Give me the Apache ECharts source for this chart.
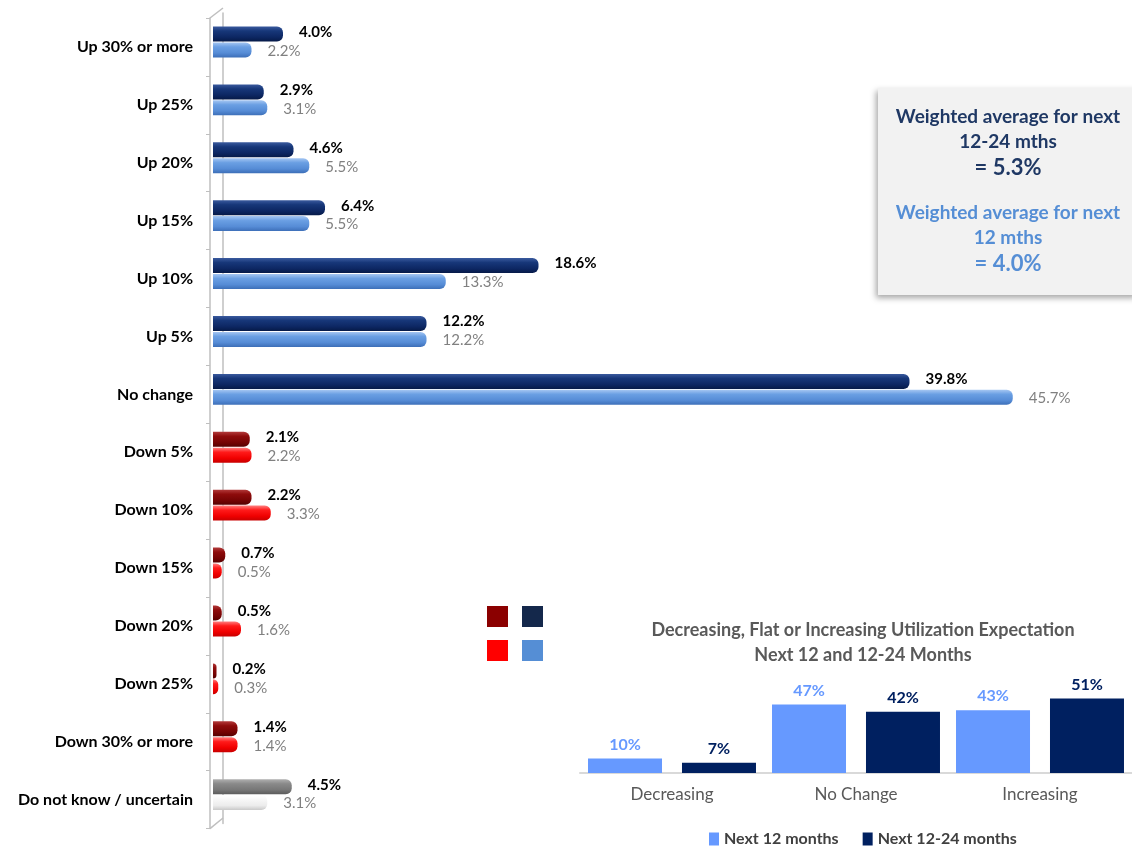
<!DOCTYPE html>
<html>
<head>
<meta charset="utf-8">
<script src="https://cdn.jsdelivr.net/npm/echarts@6/dist/echarts.min.js"></script>
<style>
  html, body { margin: 0; padding: 0; background: #fff; }
  #chart { width: 1132px; height: 848px; }
</style>
</head>
<body>
<div id="chart"></div>
<script>
// main chart: expected change, share of respondents (%)
const categories = ['Up 30% or more', 'Up 25%', 'Up 20%', 'Up 15%', 'Up 10%', 'Up 5%', 'No change',
    'Down 5%', 'Down 10%', 'Down 15%', 'Down 20%', 'Down 25%', 'Down 30% or more', 'Do not know / uncertain'];
const next1224 = [4.0, 2.9, 4.6, 6.4, 18.6, 12.2, 39.8, 2.1, 2.2, 0.7, 0.5, 0.2, 1.4, 4.5];
const next12 = [2.2, 3.1, 5.5, 5.5, 13.3, 12.2, 45.7, 2.2, 3.3, 0.5, 1.6, 0.3, 1.4, 3.1];

// inset chart
const trendCats = ['Decreasing', 'No Change', 'Increasing'];
const trend12 = [10, 47, 43];
const trend1224 = [7, 42, 51];

const FONT = 'Lato, "Open Sans", sans-serif';
const chart = echarts.init(document.getElementById('chart'));

function group(name) {
    if (name.startsWith('Down')) return 'down';
    if (name.startsWith('Do not')) return 'unknown';
    return 'up';
}

// cylinder-ish vertical shading for the horizontal bars
const shades = {
    dark: {
        up: ['#3a5a9e', '#173779', '#0d2763', '#061a48'],
        down: ['#b23a3a', '#8e0c0c', '#760404', '#560000'],
        unknown: ['#b0b0b0', '#8a8a8a', '#777777', '#5c5c5c'],
    },
    light: {
        up: ['#a5c6f2', '#6a9fe3', '#568cd6', '#3d6fb8'],
        down: ['#ff8080', '#ff1a1a', '#f00000', '#c80000'],
        unknown: ['#ffffff', '#f7f7f7', '#ececec', '#c8c8c8'],
    },
};

function barColor(kind) {
    return function (p) {
        const s = shades[kind][group(categories[p.dataIndex])];
        return new echarts.graphic.LinearGradient(0, 0, 0, 1, [
            {offset: 0, color: s[0]},
            {offset: 0.3, color: s[1]},
            {offset: 0.7, color: s[2]},
            {offset: 1, color: s[3]},
        ]);
    };
}

function boxText(text, y, color, size) {
    return {
        type: 'text',
        x: 1008,
        y: y,
        style: {
            text: text,
            fill: color,
            font: 'bold ' + size + 'px ' + FONT,
            textAlign: 'center',
            textVerticalAlign: 'middle',
        },
    };
}

chart.setOption({
    animation: false,
    textStyle: {fontFamily: FONT},
    title: {
        text: 'Decreasing, Flat or Increasing Utilization Expectation\nNext 12 and 12-24 Months',
        left: 858,
        top: 613,
        textAlign: 'center',
        textStyle: {
            color: '#595959',
            fontSize: 18,
            fontWeight: 'bold',
            lineHeight: 25,
            fontFamily: FONT,
        },
    },
    legend: {
        data: ['Next 12 months', 'Next 12-24 months'],
        left: 704,
        top: 826,
        icon: 'rect',
        itemWidth: 10,
        itemHeight: 13,
        itemGap: 24,
        textStyle: {
            color: '#404040',
            fontSize: 16,
            fontWeight: 'bold',
            fontFamily: FONT,
        },
    },
    grid: [
        // bars (drawn a few px higher, like the 3D original)
        {left: 213, top: 13, width: 875, height: 810.6},
        // category labels and wall
        {left: 210, top: 18, width: 875, height: 810.6},
        // inset column chart
        {left: 580, top: 685.4, width: 561, height: 87.6},
    ],
    xAxis: [
        {gridIndex: 0, type: 'value', min: 0, max: 50, show: false},
        {gridIndex: 1, type: 'value', min: 0, max: 50, show: false},
        {
            gridIndex: 2,
            type: 'category',
            data: trendCats,
            axisLine: {lineStyle: {color: '#d9d9d9', width: 2}},
            axisTick: {show: false},
            axisLabel: {color: '#595959', fontSize: 17, margin: 13, fontFamily: FONT},
        },
    ],
    yAxis: [
        {
            gridIndex: 0,
            type: 'category',
            data: categories,
            inverse: true,
            offset: -10,
            axisLine: {lineStyle: {color: '#bfbfbf', width: 1.5}},
            axisTick: {show: false},
            axisLabel: {show: false},
        },
        {
            gridIndex: 1,
            type: 'category',
            data: categories,
            inverse: true,
            axisLine: {lineStyle: {color: '#bfbfbf', width: 1.5}},
            axisTick: {show: true, inside: false, length: 4, lineStyle: {color: '#bfbfbf'}},
            axisLabel: {
                color: '#000',
                fontSize: 16,
                fontWeight: 'bold',
                margin: 17,
                fontFamily: FONT,
            },
        },
        {gridIndex: 2, type: 'value', min: 0, max: 60, show: false},
    ],
    series: [
        {
            name: 'Next 12-24 mths',
            type: 'bar',
            xAxisIndex: 0,
            yAxisIndex: 0,
            data: next1224,
            barWidth: 15,
            barGap: '6%',
            itemStyle: {color: barColor('dark'), borderRadius: [0, 6, 6, 0]},
            label: {
                show: true,
                position: 'right',
                distance: 16,
                offset: [0, -2],
                color: '#000',
                fontSize: 15,
                fontWeight: 'bold',
                fontFamily: FONT,
                formatter: p => p.value.toFixed(1) + '%',
            },
        },
        {
            name: 'Next 12 mths',
            type: 'bar',
            xAxisIndex: 0,
            yAxisIndex: 0,
            data: next12,
            barWidth: 15,
            itemStyle: {color: barColor('light'), borderRadius: [0, 6, 6, 0]},
            label: {
                show: true,
                position: 'right',
                distance: 16,
                offset: [0, 1],
                color: '#808080',
                fontSize: 15,
                fontFamily: FONT,
                formatter: p => p.value.toFixed(1) + '%',
            },
        },
        {
            name: 'Next 12 months',
            type: 'bar',
            xAxisIndex: 2,
            yAxisIndex: 2,
            data: trend12,
            barWidth: 74,
            barGap: '27%',
            itemStyle: {color: '#6699ff'},
            label: {
                show: true,
                position: 'top',
                distance: 6,
                color: '#6699ff',
                fontSize: 16,
                fontWeight: 'bold',
                fontFamily: FONT,
                formatter: '{c}%',
            },
        },
        {
            name: 'Next 12-24 months',
            type: 'bar',
            xAxisIndex: 2,
            yAxisIndex: 2,
            data: trend1224,
            barWidth: 74,
            itemStyle: {color: '#002060'},
            label: {
                show: true,
                position: 'top',
                distance: 6,
                color: '#002060',
                fontSize: 16,
                fontWeight: 'bold',
                fontFamily: FONT,
                formatter: '{c}%',
            },
        },
    ],
    graphic: [
        // wall top / bottom edges
        {type: 'polyline', shape: {points: [[210, 18], [223, 8]]}, style: {stroke: '#bfbfbf', lineWidth: 1.5}},
        {type: 'polyline', shape: {points: [[210, 828.6], [223, 818]]}, style: {stroke: '#bfbfbf', lineWidth: 1.5}},
        // colour key squares
        {type: 'rect', shape: {x: 487, y: 606, width: 21, height: 21}, style: {fill: '#8b0000'}},
        {type: 'rect', shape: {x: 522, y: 606, width: 21, height: 21}, style: {fill: '#14284b'}},
        {type: 'rect', shape: {x: 487, y: 640, width: 21, height: 21}, style: {fill: '#ff0000'}},
        {type: 'rect', shape: {x: 522, y: 640, width: 21, height: 21}, style: {fill: '#558ed5'}},
        // weighted average box
        {
            type: 'rect',
            shape: {x: 878, y: 88, width: 260, height: 207},
            style: {
                fill: '#f2f2f2',
                shadowBlur: 6,
                shadowOffsetX: -2,
                shadowOffsetY: 3,
                shadowColor: 'rgba(0,0,0,0.35)',
            },
        },
        boxText('Weighted average for next', 117, '#1f3864', 19),
        boxText('12-24 mths', 142, '#1f3864', 19),
        boxText('= 5.3%', 168, '#1f3864', 22),
        boxText('Weighted average for next', 213, '#558ed5', 19),
        boxText('12 mths', 238, '#558ed5', 19),
        boxText('= 4.0%', 264, '#558ed5', 22),
    ],
});
</script>
</body>
</html>
